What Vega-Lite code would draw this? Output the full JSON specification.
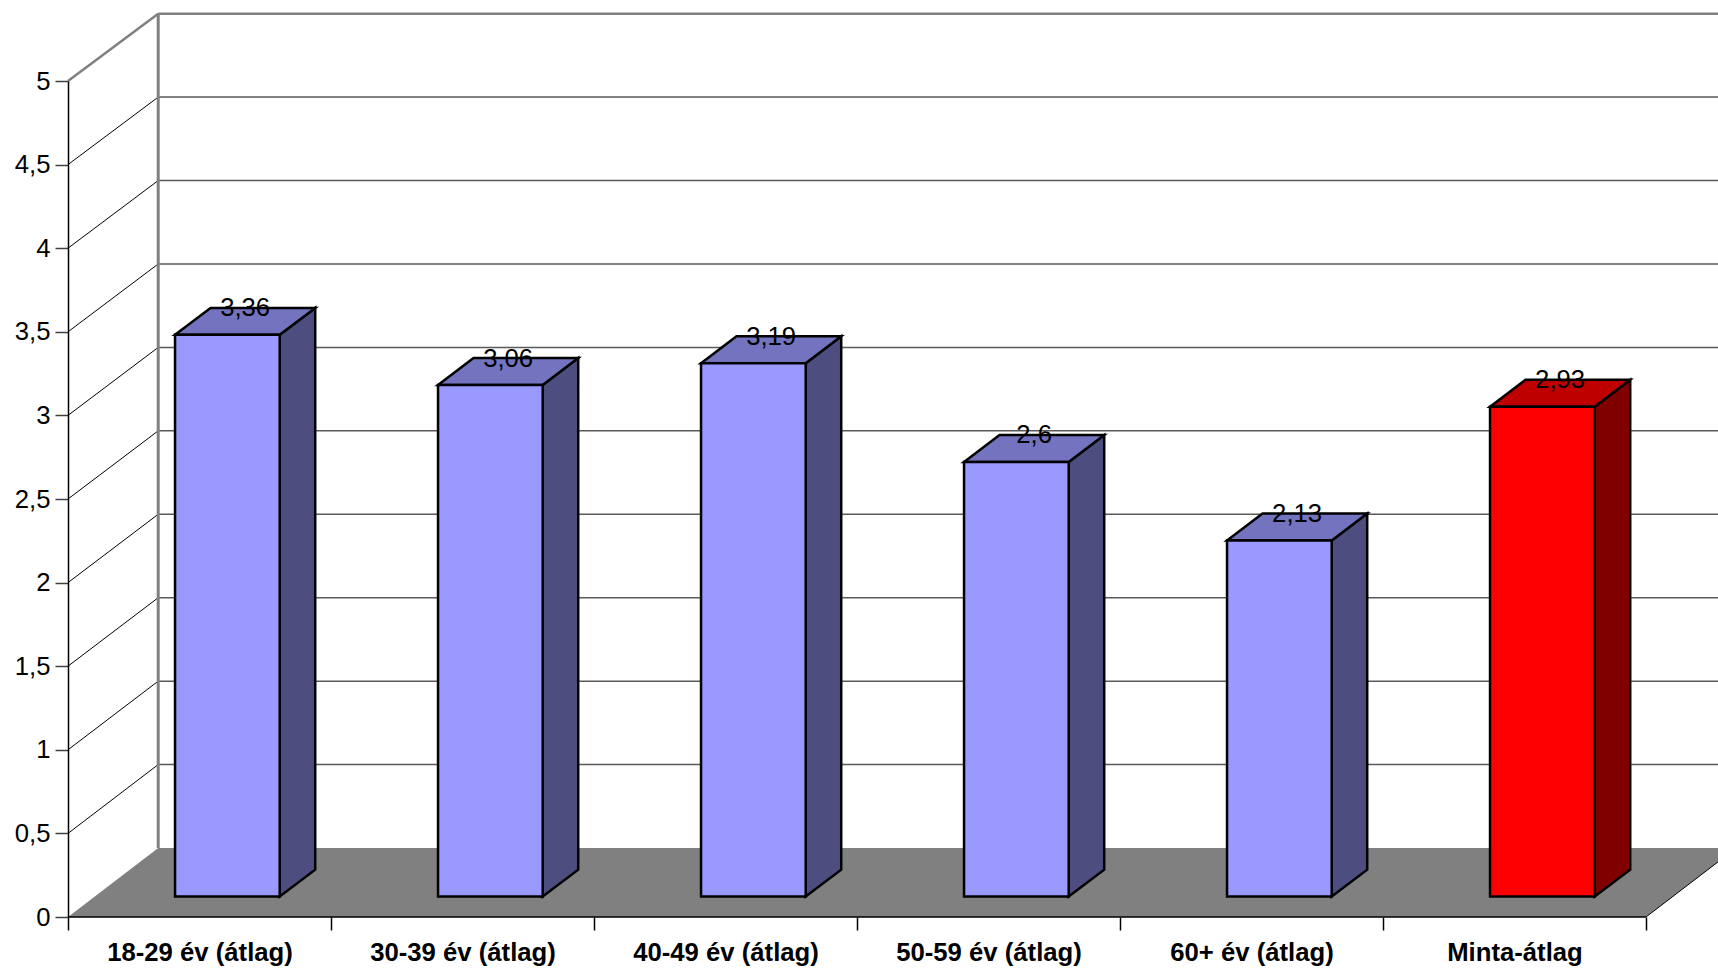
{
"$schema":"https://vega.github.io/schema/vega-lite/v6.json",
"width":1650,"height":836,
"autosize":{"type":"none"},
"padding":{"left":68,"top":81,"right":0,"bottom":52},
"background":"white",
"config":{"view":{"stroke":null},"font":"Liberation Sans"},
"datasets":{
"bars":[
{"category":"18-29 év (átlag)","value":3.36},
{"category":"30-39 év (átlag)","value":3.06},
{"category":"40-49 év (átlag)","value":3.19},
{"category":"50-59 év (átlag)","value":2.6},
{"category":"60+ év (átlag)","value":2.13},
{"category":"Minta-átlag","value":2.93}],
"ticks":[{"tick":0},{"tick":0.5},{"tick":1},{"tick":1.5},{"tick":2},{"tick":2.5},{"tick":3},{"tick":3.5},{"tick":4},{"tick":4.5},{"tick":5}]
},
"layer":[
{"data":{"values":[{"depth":0},{"depth":1}]},
"transform":[{"calculate":"datum.depth*0.343","as":"xa"},{"calculate":"6+datum.depth*0.343","as":"xb"},{"calculate":"datum.depth*0.4127","as":"ya"}],
"mark":{"type":"area","orient":"horizontal","color":"#808080"},
"encoding":{
"y":{"field":"ya","type":"quantitative","title":null,
"scale":{"domain":[0,5],"nice":false,"zero":false},
"axis":{"values":[0,0.5,1,1.5,2,2.5,3,3.5,4,4.5,5],"labelExpr":"replace(toString(datum.value),'.',',')","labelFont":"Liberation Sans","labelFontSize":25.7,"labelColor":"#000","labelPadding":5,"tickSize":13,"tickColor":"#404040","tickWidth":1.5,"domainColor":"#000","domainWidth":1.5,"grid":false,"labelOverlap":false,"labelBound":false,"labelFlush":false,"zindex":1}},
"x":{"field":"xa","type":"quantitative","title":null,
"scale":{"domain":[0,6.2738],"nice":false,"zero":false},
"axis":{"values":[0,0.5,1,1.5,2,2.5,3,3.5,4,4.5,5,5.5,6],"labelExpr":"datum.value%1===0?'':['18-29 év (átlag)','30-39 év (átlag)','40-49 év (átlag)','50-59 év (átlag)','60+ év (átlag)','Minta-átlag'][floor(datum.value)]","labelFont":"Liberation Sans","labelFontSize":25.7,"labelFontWeight":"bold","labelColor":"#000","labelPadding":10,"labelLimit":400,"labelAngle":0,"labelAlign":"center","tickSize":13,"tickColor":"#000","tickWidth":1.5,"tickOpacity":{"condition":{"test":"datum.value%1===0","value":1},"value":0},"domain":false,"grid":false,"labelOverlap":false,"labelBound":false,"labelFlush":false,"zindex":1}},
"x2":{"field":"xb"}}},
{"data":{"name":"ticks"},
"transform":[{"filter":"datum.tick>0"},{"calculate":"datum.tick*0.998+0.4127","as":"ya"},{"calculate":"0.343","as":"xa"},{"calculate":"6.343","as":"xb"}],
"mark":{"type":"rule"},
"encoding":{
"x":{"field":"xa","type":"quantitative"},"x2":{"field":"xb"},
"y":{"field":"ya","type":"quantitative"},
"color":{"condition":{"test":"datum.tick===5","value":"#808080"},"value":"#5a5a5a"},
"strokeWidth":{"condition":{"test":"datum.tick===5","value":2.5},"value":1.5}}},
{"data":{"name":"ticks"},
"transform":[{"filter":"datum.tick>0"},{"calculate":"datum.tick*0.998+0.4127","as":"ya"},{"calculate":"0","as":"xa"},{"calculate":"0.343","as":"xb"}],
"mark":{"type":"rule"},
"encoding":{
"x":{"field":"xa","type":"quantitative"},"x2":{"field":"xb"},
"y":{"field":"tick","type":"quantitative"},"y2":{"field":"ya"},
"color":{"condition":{"test":"datum.tick===5","value":"#808080"},"value":"#000"},
"strokeWidth":{"condition":{"test":"datum.tick===5","value":2.5},"value":1}}},
{"data":{"name":"ticks"},
"transform":[{"filter":"datum.tick===5"},{"calculate":"datum.tick*0.998+0.4127","as":"ya"},{"calculate":"0.4127","as":"yb"},{"calculate":"0.343","as":"xa"}],
"mark":{"type":"rule","color":"#808080","strokeWidth":3},
"encoding":{
"x":{"field":"xa","type":"quantitative"},
"y":{"field":"yb","type":"quantitative"},"y2":{"field":"ya"}}},
{"data":{"name":"ticks"},
"transform":[{"filter":"datum.tick===0"},{"calculate":"0","as":"xa"},{"calculate":"6","as":"xb"}],
"mark":{"type":"rule","color":"#000","strokeWidth":1.5},
"encoding":{
"x":{"field":"xa","type":"quantitative"},"x2":{"field":"xb"},
"y":{"field":"tick","type":"quantitative"}}},
{"data":{"name":"ticks"},
"transform":[{"filter":"datum.tick===0"},{"calculate":"0.4127","as":"ya"},{"calculate":"6","as":"xa"},{"calculate":"6.343","as":"xb"}],
"mark":{"type":"rule","color":"#000","strokeWidth":1},
"encoding":{
"x":{"field":"xa","type":"quantitative"},"x2":{"field":"xb"},
"y":{"field":"tick","type":"quantitative"},"y2":{"field":"ya"}}},
{"data":{"name":"bars"},
"transform":[{"window":[{"op":"row_number","as":"i"}]},{"calculate":"datum.i-1+0.407","as":"x0"},{"calculate":"datum.x0+0.398","as":"x1"},{"calculate":"[0,1]","as":"depth"},{"flatten":["depth"]},
{"calculate":"datum.x1+datum.depth*0.135","as":"xa"},{"calculate":"datum.value+0.122+datum.depth*0.161","as":"ya"},{"calculate":"0.122+datum.depth*0.161","as":"yb"}],
"mark":{"type":"area","stroke":"#000","strokeWidth":2.5,"strokeJoin":"miter"},
"encoding":{
"x":{"field":"xa","type":"quantitative"},
"y":{"field":"ya","type":"quantitative"},"y2":{"field":"yb"},
"detail":{"field":"category"},
"color":{"condition":{"test":"datum.category==='Minta-átlag'","value":"#800000"},"value":"#4d4d80"}}},
{"data":{"name":"bars"},
"transform":[{"window":[{"op":"row_number","as":"i"}]},{"calculate":"datum.i-1+0.407","as":"x0"},{"calculate":"datum.x0+0.398","as":"x1"},{"calculate":"[0,1]","as":"depth"},{"flatten":["depth"]},
{"calculate":"datum.x0+datum.depth*0.135","as":"xa"},{"calculate":"datum.x1+datum.depth*0.135","as":"xb"},{"calculate":"datum.value+0.122+datum.depth*0.161","as":"ya"}],
"mark":{"type":"area","orient":"horizontal","stroke":"#000","strokeWidth":2.5,"strokeJoin":"miter"},
"encoding":{
"x":{"field":"xa","type":"quantitative"},"x2":{"field":"xb"},
"y":{"field":"ya","type":"quantitative"},
"detail":{"field":"category"},
"color":{"condition":{"test":"datum.category==='Minta-átlag'","value":"#bf0000"},"value":"#7373bf"}}},
{"data":{"name":"bars"},
"transform":[{"window":[{"op":"row_number","as":"i"}]},{"calculate":"datum.i-1+0.407","as":"x0"},{"calculate":"datum.x0+0.398","as":"x1"},{"calculate":"datum.value+0.122","as":"ya"},{"calculate":"0.122","as":"yb"}],
"mark":{"type":"rect","stroke":"#000","strokeWidth":2.5},
"encoding":{
"x":{"field":"x0","type":"quantitative"},"x2":{"field":"x1"},
"y":{"field":"ya","type":"quantitative"},"y2":{"field":"yb"},
"color":{"condition":{"test":"datum.category==='Minta-átlag'","value":"#ff0000"},"value":"#9999ff"}}},
{"data":{"name":"bars"},
"transform":[{"window":[{"op":"row_number","as":"i"}]},{"calculate":"datum.i-1+0.407+0.199+0.0675","as":"xa"},{"calculate":"datum.value+0.122+0.158","as":"ya"},{"calculate":"replace(toString(datum.value),'.',',')","as":"label"}],
"mark":{"type":"text","font":"Liberation Sans","fontSize":25.7,"color":"#000","baseline":"middle","align":"center"},
"encoding":{
"x":{"field":"xa","type":"quantitative"},
"y":{"field":"ya","type":"quantitative"},
"text":{"field":"label"}}}
]
}
